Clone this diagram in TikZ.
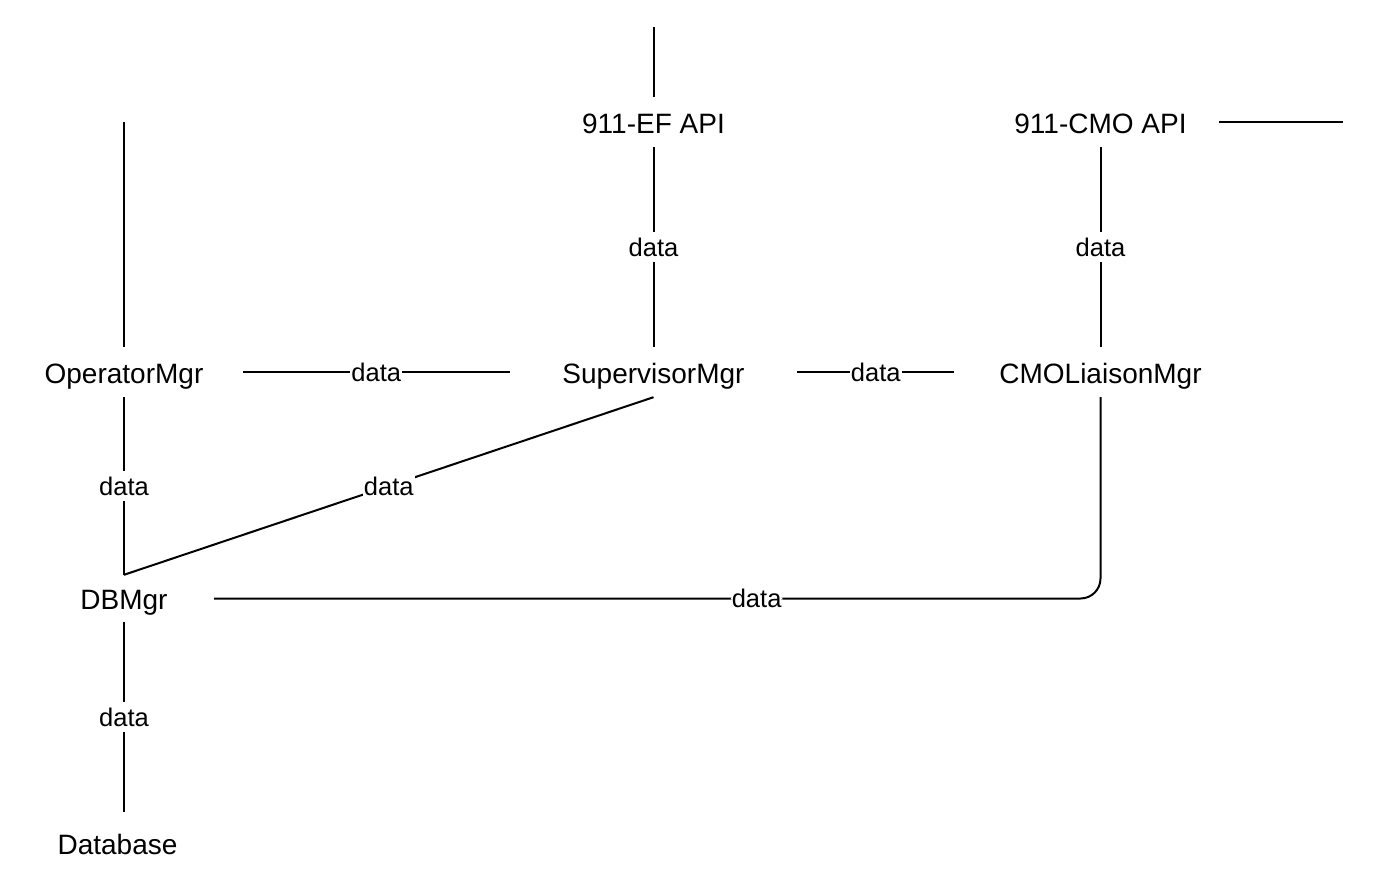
\documentclass[tikz,border=0pt]{standalone}
\usepackage{fontspec}
\setmainfont{Liberation Sans}
\begin{document}
\begin{tikzpicture}[x=1pt,y=-1pt,
  comp/.style={anchor=base,inner xsep=0pt,inner ysep=0pt,text height=36pt,text depth=14pt,font=\fontsize{28}{32}\selectfont},
  lbl/.style={fill=white,inner xsep=1pt,inner ysep=6pt,text height=18pt,text depth=0pt,font=\fontsize{25.5}{30}\selectfont},
  wire/.style={line width=2pt}]
\useasboundingbox (0,0) rectangle (1377,883);
\node[comp] (ef) at (653.5,133) {911-EF API};
\node[comp,minimum width=236pt] (cmoapi) at (1100.5,133) {911-CMO API};
\node[comp,minimum width=237pt] (op) at (124,383) {OperatorMgr};
\node[comp,minimum width=287pt] (sup) at (653.5,383) {SupervisorMgr};
\node[comp,minimum width=292pt] (cmo) at (1100.5,383) {CMOLiaisonMgr};
\node[comp,minimum width=180pt,text height=34pt,text depth=13pt] (db) at (124,609) {DBMgr};
\node[comp,text height=42pt] (dbase) at (117.5,854) {Database};
\coordinate (optop) at (124,122);
\coordinate (eftop) at (653.5,27);
\coordinate (cmoright) at (1343,122);
\draw[wire] (op.north) -- (op.north |- optop);
\draw[wire] (ef.north) -- (ef.north |- eftop);
\draw[wire] (cmoapi.east) -- (cmoright);
\draw[wire] (ef.south) -- node[lbl] {data} (sup.north);
\draw[wire] (cmoapi.south) -- node[lbl] {data} (cmo.north);
\draw[wire] (op.east) -- node[lbl] {data} (sup.west);
\draw[wire] (sup.east) -- node[lbl] {data} (cmo.west);
\draw[wire] (op.south) -- node[lbl] {data} (db.north);
\draw[wire] (db.north) -- node[lbl] {data} (sup.south);
\draw[wire,rounded corners=20pt] (db.east) -| node[lbl,pos=0.306] {data} (cmo.south);
\draw[wire] (db.south) -- node[lbl] {data} (db.south |- dbase.north);
\end{tikzpicture}
\end{document}
